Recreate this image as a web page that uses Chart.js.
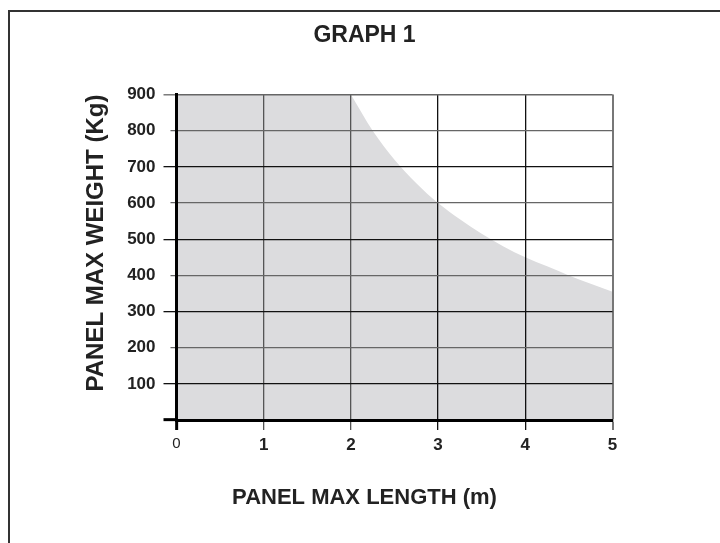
<!DOCTYPE html>
<html>
<head>
<meta charset="utf-8">
<script src="https://cdn.jsdelivr.net/npm/chart.js@4.4.1/dist/chart.umd.min.js"></script>
<style>
  html, body { margin: 0; padding: 0; background: #ffffff; }
  #wrap { position: relative; width: 720px; height: 543px; }
  #frame { position: absolute; left: 8px; top: 10px; width: 760px; height: 600px;
           border-top: 2px solid #333; border-left: 2px solid #333; pointer-events: none; }
  canvas { position: absolute; left: 0; top: 0; }
</style>
</head>
<body>
<div id="wrap">
  <div id="frame"></div>
  <canvas id="c" width="720" height="543"></canvas>
</div>
<script>
// ---- data ----
const chartTitle = 'GRAPH 1';
const xTitle = 'PANEL MAX LENGTH (m)';
const yTitle = 'PANEL MAX WEIGHT (Kg)';

const xTickLabels = ['0', '1', '2', '3', '4', '5'];
const yTickLabels = ['', '100', '200', '300', '400', '500', '600', '700', '800', '900'];

// flat part of the permitted area (length m, weight kg)
const blockLength = [0, 1, 2];
const blockWeight = [900, 900, 900];

// curved limit part
const curveLength = [2, 2.25, 2.5, 2.75, 3, 3.25, 3.5, 3.75, 4, 4.25, 4.5, 4.75, 5];
const curveWeight = [900, 800, 720, 655, 600, 555, 515, 480, 450, 425, 400, 377, 355];

const fillColor = '#dcdcde';
const textColor = '#222';
const FONT = '"Liberation Sans", Arial, Helvetica, sans-serif';

const toPts = (xs, ys) => xs.map((x, i) => ({x: x, y: ys[i]}));

const yGridColor = (v) => (v === 900 || v % 200 === 0) ? '#666' : '#111';
const xGridColor = (v) => (v === 3 || v === 4) ? '#111' : (v === 5 ? '#777' : '#555');

new Chart(document.getElementById('c'), {
  type: 'line',
  data: {
    datasets: [
      {
        data: toPts(blockLength, blockWeight),
        fill: 'origin',
        backgroundColor: fillColor,
        borderWidth: 0,
        borderColor: 'rgba(0,0,0,0)',
        pointRadius: 0,
        tension: 0
      },
      {
        data: toPts(curveLength, curveWeight),
        fill: 'origin',
        backgroundColor: fillColor,
        borderWidth: 0,
        borderColor: 'rgba(0,0,0,0)',
        pointRadius: 0,
        cubicInterpolationMode: 'monotone'
      }
    ]
  },
  options: {
    responsive: false,
    animation: false,
    devicePixelRatio: 1,
    layout: { padding: { left: 9, top: 0, right: 0, bottom: 0 } },
    plugins: {
      legend: { display: false },
      tooltip: { enabled: false },
      title: {
        display: true,
        text: chartTitle,
        color: textColor,
        font: { family: FONT, size: 23, weight: 'bold', lineHeight: 1.2 },
        padding: { top: 22, bottom: 45 }
      },
      subtitle: {
        display: true,
        position: 'bottom',
        text: xTitle,
        color: textColor,
        font: { family: FONT, size: 22, weight: 'bold', lineHeight: 1.2 },
        padding: { top: 0, bottom: 32 }
      }
    },
    scales: {
      x: {
        type: 'linear',
        min: 0,
        max: 5,
        afterFit: (s) => { s.height = 64.6; },
        ticks: {
          stepSize: 1,
          padding: 5,
          color: textColor,
          callback: (v, i) => xTickLabels[i],
          font: (c) => (c.tick && c.tick.value === 0)
            ? { family: FONT, size: 15, weight: 'normal' }
            : { family: FONT, size: 17, weight: 'bold' }
        },
        grid: {
          z: 1,
          tickLength: 10,
          color: (c) => xGridColor(c.tick ? c.tick.value : 0),
          lineWidth: (c) => (c.tick && c.tick.value === 5) ? 2 : 1.3,
          tickColor: (c) => (c.tick && c.tick.value === 0) ? '#000' : xGridColor(c.tick ? c.tick.value : 0),
          tickWidth: (c) => (c.tick && c.tick.value === 0) ? 3 : ((c.tick && c.tick.value === 5) ? 2 : 1.3)
        },
        border: { display: true, color: '#000', width: 3, z: 2 }
      },
      y: {
        type: 'linear',
        position: 'left',
        min: 0,
        max: 900,
        afterFit: (s) => { s.width = 167.5; },
        ticks: {
          stepSize: 100,
          padding: 8,
          color: textColor,
          callback: (v, i) => yTickLabels[i],
          font: { family: FONT, size: 17, weight: 'bold' }
        },
        grid: {
          z: 1,
          tickLength: 13,
          color: (c) => yGridColor(c.tick ? c.tick.value : 0),
          lineWidth: (c) => (c.tick && c.tick.value === 900) ? 1.6 : 1.3,
          tickColor: (c) => (c.tick && c.tick.value === 0) ? '#000' : yGridColor(c.tick ? c.tick.value : 0),
          tickWidth: (c) => (c.tick && c.tick.value === 0) ? 3 : 1.3,
          tickBorderDash: (c) => (c.tick && c.tick.value !== 0 && c.tick.value % 200 === 0) ? [0, 7, 7, 40] : []
        },
        border: { display: true, color: '#000', width: 3, z: 2 },
        title: {
          display: true,
          text: yTitle,
          align: 'end',
          color: textColor,
          font: { family: FONT, size: 24, weight: 'bold', lineHeight: 1.2 },
          padding: { top: 73, bottom: 0 }
        }
      },
      yRight: {
        type: 'linear',
        position: 'right',
        min: 0,
        max: 1,
        afterFit: (s) => { s.width = 107.5; },
        ticks: { display: false },
        grid: { display: false, drawTicks: false },
        border: { display: false }
      }
    }
  }
});
</script>
</body>
</html>
